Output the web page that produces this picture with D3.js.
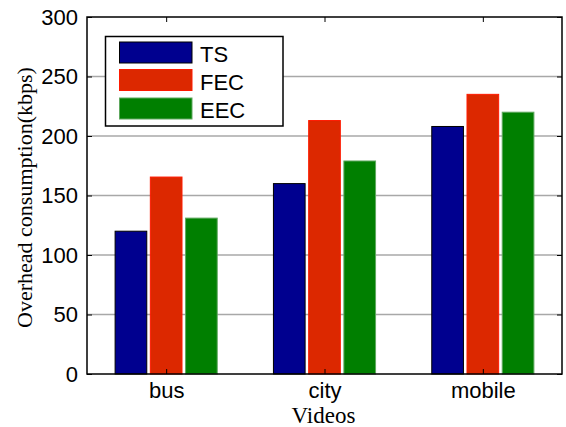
<!DOCTYPE html>
<html>
<head>
<meta charset="utf-8">
<script src="https://cdn.jsdelivr.net/npm/d3@7/dist/d3.min.js"></script>
<style>
  html, body { margin: 0; padding: 0; background: #fff; }
  svg { display: block; }
</style>
</head>
<body>
<svg id="chart" width="566" height="427"></svg>
<script>
// Overhead consumption per test video for three schemes
const videos = ["bus", "city", "mobile"];
const seriesNames = ["TS", "FEC", "EEC"];
const tsValues = [120, 160, 208];
const fecValues = [165.5, 213, 235];
const eecValues = [131, 179, 220];
const yTicks = [0, 50, 100, 150, 200, 250, 300];

const seriesValues = [tsValues, fecValues, eecValues];
const fills = ["#00008f", "#dc2800", "#007f00"];
const strokes = ["#000000", "#ff1a00", "#5fa85f"];

const svg = d3.select("#chart");
const margin = { left: 87, top: 17, right: 4, bottom: 53 };
const W = 566, H = 427;
const plotW = W - margin.left - margin.right;
const plotH = H - margin.top - margin.bottom;

const g = svg.append("g").attr("transform", `translate(${margin.left},${margin.top})`);

// group positions 1..3 on a continuous axis, like a grouped bar plot
const x = d3.scaleLinear().domain([0.5, 3.5]).range([0, plotW]);
const y = d3.scaleLinear().domain([0, 300]).range([plotH, 0]);

const groupOffset = 0.2225;
const barWidthUnits = 0.2;

// horizontal grid
g.append("g").selectAll("line").data(yTicks.filter(d => d > 0 && d < 300)).join("line")
  .attr("x1", 0).attr("x2", plotW)
  .attr("y1", d => y(d)).attr("y2", d => y(d))
  .attr("stroke", "#a8a8a8").attr("stroke-width", 1.5);

// bars
seriesValues.forEach((vals, si) => {
  g.append("g").selectAll("rect").data(vals).join("rect")
    .attr("x", (d, i) => x(i + 1 + (si - 1) * groupOffset - barWidthUnits / 2))
    .attr("width", x(barWidthUnits) - x(0))
    .attr("y", d => y(d))
    .attr("height", d => y(0) - y(d))
    .attr("fill", fills[si])
    .attr("stroke", strokes[si])
    .attr("stroke-width", 1);
});

// frame
g.append("rect").attr("x", 0).attr("y", 0).attr("width", plotW).attr("height", plotH)
  .attr("fill", "none").attr("stroke", "#000").attr("stroke-width", 1.5);

// y axis (ticks inward) and mirrored ticks on the right
const yAxis = d3.axisLeft(y).tickValues(yTicks).tickSize(-5).tickPadding(9);
const yg = g.append("g").call(yAxis);
yg.select(".domain").remove();
yg.selectAll("text")
  .attr("font-family", "Liberation Sans, Arial, sans-serif")
  .attr("font-size", 22).attr("fill", "#000");
yg.selectAll("line").attr("stroke", "#000");

const yr = g.append("g").attr("transform", `translate(${plotW},0)`)
  .call(d3.axisRight(y).tickValues(yTicks).tickSize(-5).tickFormat(""));
yr.select(".domain").remove();
yr.selectAll("line").attr("stroke", "#000");

// x axis
const xAxis = d3.axisBottom(x).tickValues([1, 2, 3]).tickFormat((d) => videos[d - 1])
  .tickSize(-5).tickPadding(8);
const xg = g.append("g").attr("transform", `translate(0,${plotH})`).call(xAxis);
xg.select(".domain").remove();
xg.selectAll("text")
  .attr("font-family", "Liberation Sans, Arial, sans-serif")
  .attr("font-size", 22).attr("fill", "#000");
xg.selectAll("line").attr("stroke", "#000");

const xt = g.append("g").call(d3.axisTop(x).tickValues([1, 2, 3]).tickSize(-5).tickFormat(""));
xt.select(".domain").remove();
xt.selectAll("line").attr("stroke", "#000");

// axis titles
svg.append("text")
  .attr("x", margin.left + plotW / 2 - 1).attr("y", 423)
  .attr("text-anchor", "middle")
  .attr("font-family", "Liberation Serif, Times New Roman, serif")
  .attr("font-size", 23)
  .text("Videos");

svg.append("text")
  .attr("transform", `translate(32,${margin.top + plotH / 2 + 2}) rotate(-90)`)
  .attr("text-anchor", "middle")
  .attr("font-family", "Liberation Serif, Times New Roman, serif")
  .attr("font-size", 22)
  .text("Overhead consumption(kbps)");

// legend
const legend = svg.append("g");
legend.append("rect")
  .attr("x", 105.5).attr("y", 36.5).attr("width", 177.5).attr("height", 89.5)
  .attr("fill", "#fff").attr("stroke", "#000").attr("stroke-width", 1.5);
const rowY = [42, 69.5, 98];
seriesNames.forEach((name, i) => {
  legend.append("rect")
    .attr("x", 119.5).attr("y", rowY[i]).attr("width", 72.5).attr("height", 21)
    .attr("fill", fills[i]).attr("stroke", strokes[i]).attr("stroke-width", 1);
  legend.append("text")
    .attr("x", 200).attr("y", rowY[i] + 20)
    .attr("font-family", "Liberation Sans, Arial, sans-serif")
    .attr("font-size", 22)
    .text(name);
});
</script>
</body>
</html>
